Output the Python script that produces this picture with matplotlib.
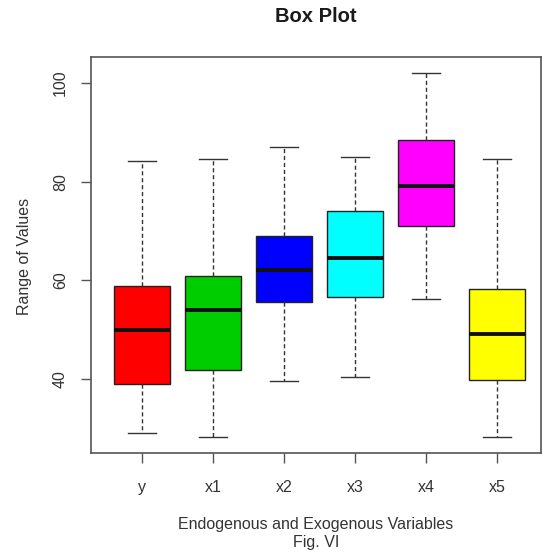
import matplotlib
matplotlib.use("Agg")
import matplotlib.pyplot as plt

plt.rcParams['font.family'] = ['Liberation Sans', 'DejaVu Sans']

labels = ["y", "x1", "x2", "x3", "x4", "x5"]
whislo = [29.2, 28.3, 39.6, 40.5, 56.3, 28.4]
q1 = [39.0, 41.8, 55.6, 56.6, 71.1, 39.9]
med = [49.9, 54.1, 62.1, 64.5, 79.1, 49.2]
q3 = [58.9, 60.9, 68.9, 74.0, 88.5, 58.3]
whishi = [84.1, 84.5, 87.0, 85.0, 101.9, 84.6]
colors = ["#ff0000", "#00cd00", "#0000ff", "#00ffff", "#ff00ff", "#ffff00"]

W, H = 546, 556
fig = plt.figure(figsize=(W / 100, H / 100), dpi=100)
ax = fig.add_axes([91 / W, 1 - 452.5 / H, 450 / W, (452.5 - 57) / H])

stats = []
for i, lab in enumerate(labels):
    stats.append(dict(label=lab, whislo=whislo[i], q1=q1[i], med=med[i],
                      q3=q3[i], whishi=whishi[i], fliers=[]))

bp = ax.bxp(stats, positions=range(1, len(labels) + 1), widths=0.8,
            patch_artist=True, showfliers=False, capwidths=0.4,
            boxprops=dict(edgecolor="#222222", linewidth=1.0),
            whiskerprops=dict(color="#333333", linestyle=(0, (3, 2)), linewidth=1.0),
            capprops=dict(color="#333333", linewidth=1.0),
            medianprops=dict(color="#111111", linewidth=2.8))
for patch, c in zip(bp["boxes"], colors):
    patch.set_facecolor(c)

ax.set_xlim(0.282, 6.62)
ax.set_ylim(25.2, 105.2)
ax.set_yticks([40, 60, 80, 100])
ax.set_xticks(range(1, len(labels) + 1))
ax.set_xticklabels(labels)

for s in ax.spines.values():
    s.set_color("#555555")
    s.set_linewidth(1.2)
ax.tick_params(axis="both", colors="#555555", labelcolor="#333333",
               labelsize=11.5, length=7.5, width=1.0)
ax.tick_params(axis="x", pad=12)
ax.tick_params(axis="y", pad=9)
for t in ax.get_yticklabels():
    t.set_rotation(90)
    t.set_va("center")

fig.text(316 / W, 1 - 16 / H, "Box Plot", ha="center", va="center",
         fontsize=14.5, fontweight="bold", color="#1a1a1a")
fig.text(316 / W, 1 - 524 / H, "Endogenous and Exogenous Variables",
         ha="center", va="center", fontsize=11.5, color="#333333")
fig.text(316 / W, 1 - 543 / H, "Fig. VI", ha="center", va="center",
         fontsize=11.5, color="#333333")
fig.text(25 / W, 1 - 256 / H, "Range of Values", ha="center", va="center",
         rotation=90, fontsize=11.5, color="#333333")

fig.savefig("out.png", dpi=100, facecolor="white")
